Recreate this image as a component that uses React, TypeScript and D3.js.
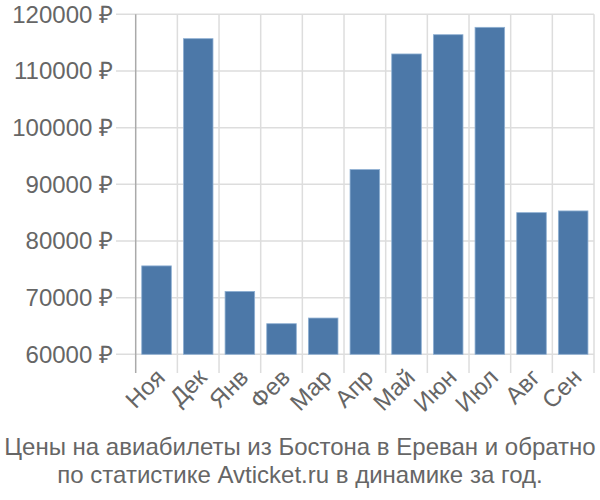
import React from "react";
import * as d3 from "d3";

const months = ["Ноя", "Дек", "Янв", "Фев", "Мар", "Апр", "Май", "Июн", "Июл", "Авг", "Сен"];
const prices = [75600, 115700, 71100, 65400, 66400, 92600, 113000, 116400, 117700, 85000, 85300];
const yTicks = [60000, 70000, 80000, 90000, 100000, 110000, 120000];
const titleLines = [
  "Цены на авиабилеты из Бостона в Ереван и обратно",
  "по статистике Avticket.ru в динамике за год.",
];

export default function App() {
  const W = 600, H = 500;
  const left = 135.7, right = 594, top = 14.3, bottom = 354.3;
  const x = d3.scaleBand<string>().domain(months).range([left, right]).paddingInner(0.29).paddingOuter(0.145);
  const xg = d3.scaleBand<string>().domain(months).range([left, right]);
  const y = d3.scaleLinear().domain([60000, 120000]).range([bottom, top]);
  const font = "'Liberation Sans', Arial, sans-serif";
  return (
    <svg width={W} height={H} style={{ position: "absolute", left: 0, top: 0 }} fontFamily={font}>
      <rect width={W} height={H} fill="#fff" />
      {yTicks.map((t) => (
        <g key={t}>
          <line x1={116} x2={right} y1={y(t)} y2={y(t)} stroke="#dddddd" strokeWidth={1.5} />
          <text x={113} y={y(t)} dy="0.35em" textAnchor="end" fontSize={24} fill="#666">
            {t} ₽
          </text>
        </g>
      ))}
      {months.map((m) => (
        <line key={m} x1={xg(m)! + xg.bandwidth()} x2={xg(m)! + xg.bandwidth()} y1={top} y2={373} stroke="#dddddd" strokeWidth={1.5} />
      ))}
      <line x1={left} x2={left} y1={top} y2={373} stroke="#aaaaaa" strokeWidth={1.5} />
      {months.map((m, i) => (
        <rect key={m} x={x(m)} y={y(prices[i])} width={x.bandwidth()} height={bottom - y(prices[i])} fill="#4c78a8" stroke="#8fb0d3" strokeWidth={0.8} />
      ))}
      {months.map((m) => {
        const cx = xg(m)! + xg.bandwidth() / 2 + 4;
        const cy = 373;
        return (
          <text key={m} x={cx} y={cy} transform={`rotate(-45 ${cx} ${cy})`} textAnchor="end" dy="0.35em" fontSize={24} fill="#666">
            {m}
          </text>
        );
      })}
      {titleLines.map((l, i) => (
        <text key={i} x={300} y={455 + i * 28.3} textAnchor="middle" fontSize={24} fill="#666">
          {l}
        </text>
      ))}
    </svg>
  );
}
